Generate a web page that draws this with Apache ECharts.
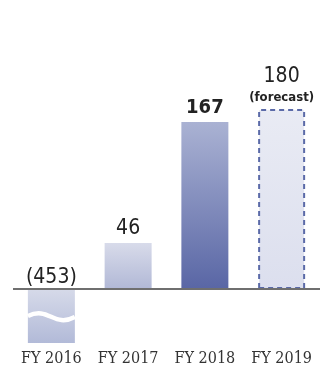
<!DOCTYPE html>
<html>
<head>
<meta charset="utf-8">
<script src="https://cdn.jsdelivr.net/npm/echarts@6/dist/echarts.min.js"></script>
<style>
  html, body { margin: 0; padding: 0; background: #fff; }
  #chart { width: 324px; height: 368px; }
</style>
</head>
<body>
<div id="chart"></div>
<script>
var categories = ['FY 2016', 'FY 2017', 'FY 2018', 'FY 2019'];
var values = [-453, 46, 167, 180];
var valueLabels = ['(453)', '46', '167', '180'];
var forecastNote = '(forecast)';
// the FY 2016 bar is cut short; the white wave marks the break
var breakPoint = [[0, -28]];

var numFont = '"DejaVu Sans Condensed", "Liberation Sans Narrow", "Roboto Condensed", Roboto, sans-serif';

function grad(top, bottom) {
  return new echarts.graphic.LinearGradient(0, 0, 0, 1, [
    {offset: 0, color: top},
    {offset: 1, color: bottom}
  ]);
}

var barStyles = [
  {color: grad('#d6dae9', '#b2bad8')},
  {color: grad('#d8dbea', '#b1b8d6')},
  {color: grad('#aab2d3', '#5966a5')},
  {color: grad('#e9ebf4', '#dcdfee'), borderColor: '#5b6aa8', borderWidth: 2, borderType: [5, 4]}
];

var barLabels = [
  {position: 'top', distance: 1, fontSize: 21, color: '#222', fontFamily: numFont},
  {position: 'top', distance: 4, fontSize: 21, color: '#222', fontFamily: numFont},
  {position: 'top', distance: 4, fontSize: 20, fontWeight: 'bold', color: '#222', fontFamily: numFont},
  {position: 'top', distance: 4, color: '#222', fontFamily: numFont,
    formatter: function (p) { return '{a|' + valueLabels[p.dataIndex] + '}\n{b|' + forecastNote + '}'; },
    rich: {
      a: {fontSize: 21, lineHeight: 27, fontFamily: numFont, color: '#222'},
      b: {fontSize: 13, lineHeight: 15, fontWeight: 'bold', fontFamily: numFont, color: '#222'}
    }
  }
];

var barData = values.map(function (v, i) {
  var lab = Object.assign({show: true}, barLabels[i]);
  if (!lab.formatter) {
    lab.formatter = function (p) { return valueLabels[p.dataIndex]; };
  }
  return {value: v, itemStyle: barStyles[i], label: lab};
});

function renderWave(params, api) {
  var c = api.coord([api.value(0), api.value(1)]);
  var w = api.size([1, 0])[0] * 0.612;
  var x0 = c[0] - w / 2;
  var x1 = c[0] + w / 2;
  return {
    type: 'bezierCurve',
    shape: {
      x1: x0, y1: c[1] - 1,
      cpx1: x0 + w * 0.45, cpy1: c[1] - 11,
      cpx2: x0 + w * 0.55, cpy2: c[1] + 11,
      x2: x1, y2: c[1]
    },
    style: {stroke: '#fff', lineWidth: 4.5, fill: null}
  };
}

var myChart = echarts.init(document.getElementById('chart'));

var option = {
  animation: false,
  grid: {left: 13, right: 4, top: 39, bottom: 25},
  xAxis: {
    type: 'category',
    data: categories,
    axisLine: {show: false, onZero: false},
    axisTick: {show: false},
    axisLabel: {
      interval: 0,
      hideOverlap: false,
      margin: 8,
      fontSize: 16,
      fontFamily: '"DejaVu Serif Condensed", "Liberation Serif", serif',
      color: '#333'
    }
  },
  yAxis: {
    type: 'value',
    min: -54,
    max: 250,
    show: false,
    splitLine: {show: false}
  },
  series: [{
    type: 'bar',
    barWidth: 47,
    clip: true,
    data: barData,
    markLine: {
      silent: true,
      symbol: 'none',
      label: {show: false},
      lineStyle: {color: '#6f6f6f', width: 2, type: 'solid'},
      data: [{yAxis: 0}]
    }
  }, {
    type: 'custom',
    renderItem: renderWave,
    clip: false,
    z: 5,
    silent: true,
    data: breakPoint
  }]
};

myChart.setOption(option);
</script>
</body>
</html>
